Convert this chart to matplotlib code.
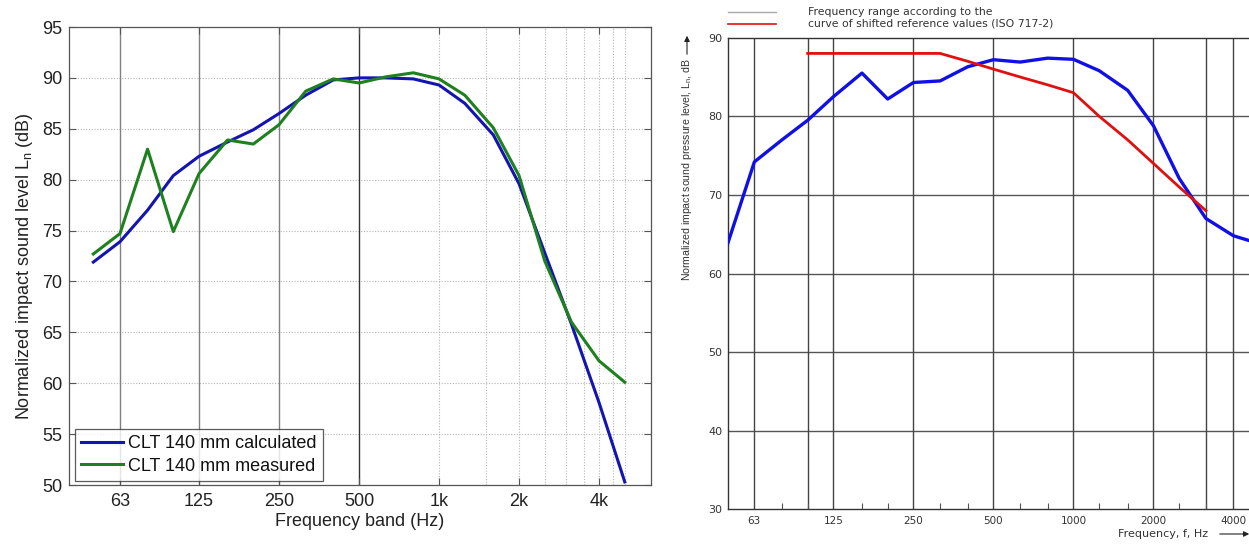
import matplotlib
matplotlib.use("Agg")
import matplotlib.pyplot as plt
import numpy as np

plt.rcParams['font.family'] = ['Liberation Sans', 'DejaVu Sans']

# ---------------- data: left chart ----------------
bands_left = [50, 63, 80, 100, 125, 160, 200, 250, 315, 400, 500, 630, 800,
              1000, 1250, 1600, 2000, 2500, 3150, 4000, 5000]
calculated = [71.9, 73.9, 77.0, 80.4, 82.3, 83.7, 84.9, 86.5, 88.3, 89.8, 90.0,
              90.0, 89.9, 89.3, 87.5, 84.4, 79.6, 72.8, 65.8, 58.1, 50.3]
measured = [72.7, 74.7, 83.0, 74.9, 80.6, 83.9, 83.5, 85.4, 88.7, 89.9, 89.5,
            90.1, 90.5, 89.9, 88.3, 85.1, 80.4, 72.0, 66.0, 62.2, 60.1]
left_ticks = [63, 125, 250, 500, 1000, 2000, 4000]
left_ticklabels = ['63', '125', '250', '500', '1k', '2k', '4k']
left_yticks = [50, 55, 60, 65, 70, 75, 80, 85, 90, 95]
left_solid_lines = [63, 125, 250, 500]
left_dotted_lines = [1000, 1500, 2000, 2500, 3000, 3500, 4000, 4500, 5000]

# ---------------- data: right chart ----------------
bands_right = [50, 63, 80, 100, 125, 160, 200, 250, 315, 400, 500, 630, 800,
               1000, 1250, 1600, 2000, 2500, 3150, 4000, 5000]
measured_right = [63.8, 74.2, 77.0, 79.5, 82.5, 85.5, 82.2, 84.3, 84.5, 86.3, 87.2,
                  86.9, 87.4, 87.25, 85.8, 83.3, 78.8, 72.1, 67.0, 64.8, 63.8]
ref_bands = [100, 125, 160, 200, 250, 315, 400, 500, 630, 800, 1000, 1250,
             1600, 2000, 2500, 3150]
ref_shifted = [88, 88, 88, 88, 88, 88, 87, 86, 85, 84, 83, 80, 77, 74, 71, 68]
right_ticks = [63, 125, 250, 500, 1000, 2000, 4000]
right_ticklabels = ['63', '125', '250', '500', '1000', '2000', '4000']
right_minor = [80, 100, 160, 200, 315, 400, 630, 800, 1250, 1600, 2500, 3150]
right_yticks = [30, 40, 50, 60, 70, 80, 90]
right_vlines = [63, 100, 125, 250, 500, 1000, 2000, 3150, 4000]

W, H = 1249, 544
fig = plt.figure(figsize=(W / 100, H / 100), dpi=100)

def fx(px):
    return px / W

def fy(py):
    return (H - py) / H

# ---------------- left chart ----------------
ax1 = fig.add_axes([fx(69), fy(485), fx(651) - fx(69), fy(27) - fy(485)])
ax1.set_xscale('log')
ax1.set_xlim(40.5, 6275)
ax1.set_ylim(50, 95)
for y in left_yticks[1:-1]:
    ax1.axhline(y, color='#b5b5b5', lw=0.8, ls=(0, (1, 1.5)), zorder=1)
for x in left_dotted_lines:
    ax1.axvline(x, color='#b5b5b5', lw=0.8, ls=(0, (1, 1.5)), zorder=1)
for x in left_solid_lines:
    ax1.axvline(x, color='#333333' if x == 500 else '#808080', lw=1.0, zorder=1)
ax1.plot(bands_left, calculated, color='#1414b0', lw=2.2, label='CLT 140 mm calculated', zorder=3)
ax1.plot(bands_left, measured, color='#1f801f', lw=2.2, label='CLT 140 mm measured', zorder=3)
ax1.set_xticks(left_ticks)
ax1.set_xticklabels(left_ticklabels)
ax1.xaxis.set_minor_locator(matplotlib.ticker.NullLocator())
ax1.set_yticks(left_yticks)
ax1.tick_params(axis='both', which='major', direction='in', length=5, width=0.8,
                labelsize=13, colors='#555555', labelcolor='#222222',
                top=True, right=True)
ax1.tick_params(axis='x', pad=6)
ax1.tick_params(axis='y', pad=5)
for s in ax1.spines.values():
    s.set_color('#555555')
    s.set_linewidth(0.9)
ax1.set_xlabel('Frequency band (Hz)', fontsize=13, color='#222222', labelpad=2)
ax1.set_ylabel('Normalized impact sound level L$_\\mathregular{n}$ (dB)', fontsize=13,
               color='#222222')
ax1.yaxis.set_label_coords(-0.058, 0.478)
leg = ax1.legend(loc='lower left', bbox_to_anchor=((75 - 69) / 582, (485 - 481) / 458),
                 fontsize=13, frameon=True, fancybox=False, edgecolor='#333333',
                 handlelength=2.3, handletextpad=0.3, borderpad=0.35, labelspacing=0.3,
                 borderaxespad=0.0)
leg.get_frame().set_linewidth(0.9)
for t in leg.get_texts():
    t.set_color('#111111')

# ---------------- right chart ----------------
ax2 = fig.add_axes([fx(727.7), fy(509.3), fx(1259.2) - fx(727.7), fy(37.7) - fy(509.3)])
ax2.set_xscale('log')
ax2.set_xlim(50, 5000)
ax2.set_ylim(30, 90)
for y in right_yticks[1:-1]:
    ax2.axhline(y, color='#555555', lw=1.0, zorder=1)
for x in right_vlines:
    ax2.axvline(x, color='#444444', lw=1.0, zorder=1)
ax2.plot(bands_right, measured_right, color='#1010e6', lw=2.4, zorder=3)
ax2.plot(ref_bands, ref_shifted, color='#e01010', lw=2.0, zorder=4)
ax2.set_xticks(right_ticks)
ax2.set_xticklabels(right_ticklabels, family='DejaVu Sans')
ax2.set_xticks(right_minor, minor=True)
ax2.xaxis.set_minor_formatter(matplotlib.ticker.NullFormatter())
ax2.set_yticks(right_yticks)
ax2.set_yticklabels([str(v) for v in right_yticks], family='DejaVu Sans')
ax2.tick_params(axis='x', which='major', length=0, labelsize=7.5, pad=5, labelcolor='#333333')
ax2.tick_params(axis='x', which='minor', direction='in', length=4, width=0.8, color='#555555')
ax2.tick_params(axis='y', which='major', length=0, labelsize=8, pad=4, labelcolor='#333333')
for s in ax2.spines.values():
    s.set_color('#333333')
    s.set_linewidth(1.0)

# right chart annotations
fig.text(fx(687), fy(281), 'Normalized impact sound pressure level, L$_\\mathregular{n}$, dB',
         rotation=90, rotation_mode='anchor', ha='left', va='center', fontsize=7.6,
         color='#333333')
fig.add_artist(matplotlib.patches.FancyArrowPatch((fx(687), fy(57)), (fx(687), fy(33)),
               transform=fig.transFigure, arrowstyle='-|>', mutation_scale=8,
               color='#222222', lw=0.8))
fig.text(fx(1118), fy(534), 'Frequency, f, Hz', ha='left', va='center', fontsize=8,
         family='DejaVu Sans', color='#333333')
fig.add_artist(matplotlib.patches.FancyArrowPatch((fx(1217), fy(534)), (fx(1252), fy(534)),
               transform=fig.transFigure, arrowstyle='-|>', mutation_scale=8,
               color='#222222', lw=0.8))

fig.add_artist(matplotlib.lines.Line2D([fx(728), fx(776)], [fy(12), fy(12)],
                                       transform=fig.transFigure, color='#aaaaaa', lw=1.0))
fig.add_artist(matplotlib.lines.Line2D([fx(728), fx(776)], [fy(24), fy(24)],
                                       transform=fig.transFigure, color='#e01010', lw=1.2))
fig.text(fx(808), fy(12), 'Frequency range according to the', ha='left', va='center',
         fontsize=7.8, family='DejaVu Sans', color='#333333')
fig.text(fx(808), fy(24), 'curve of shifted reference values (ISO 717-2)', ha='left',
         va='center', fontsize=7.8, family='DejaVu Sans', color='#333333')

fig.savefig('out.png', dpi=100)
